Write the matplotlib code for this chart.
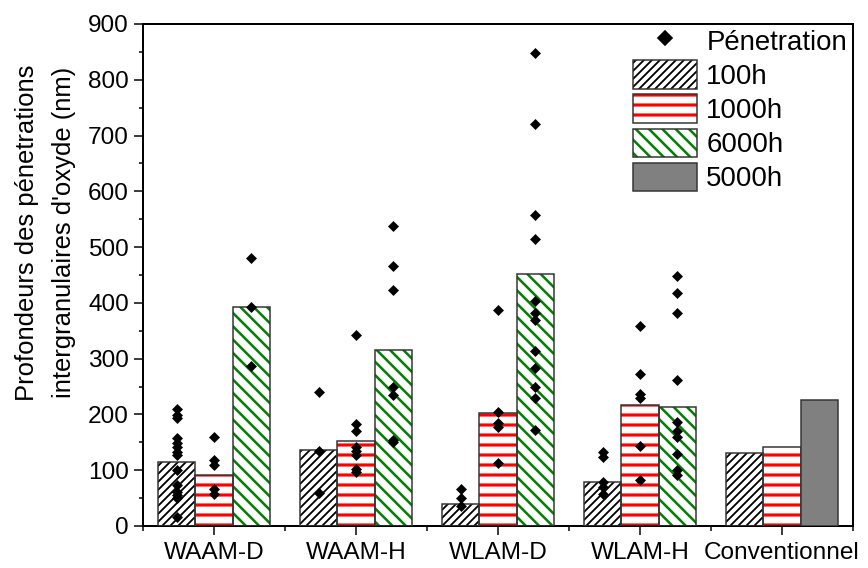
import numpy as np
import matplotlib
matplotlib.use('Agg')
import matplotlib.pyplot as plt
from matplotlib.patches import Patch
from matplotlib.lines import Line2D
from matplotlib.legend_handler import HandlerPatch

plt.rcParams['font.family'] = ['Liberation Sans', 'DejaVu Sans']

groups = ['WAAM-D', 'WAAM-H', 'WLAM-D', 'WLAM-H', 'Conventionnel']
h100 = [115, 136, 40, 78, 130]
h1000 = [91, 153, 202, 217, 141]
h6000 = [393, 315, 451, 213]          # no 6000h for Conventionnel
h5000 = [226]                          # only Conventionnel

# individual penetration depths (nm), one list per group
pts100 = [[209, 199, 193, 157, 149, 142, 133, 127, 100, 73, 61, 55, 50, 17],
          [240, 134, 60],
          [66, 50, 35],
          [132, 124, 79, 70, 57]]
pts1000 = [[159, 118, 109, 67, 58],
           [343, 182, 170, 142, 135, 128, 103, 96],
           [387, 205, 185, 178, 113],
           [358, 272, 236, 230, 143, 82]]
pts6000 = [[481, 392, 286],
           [537, 466, 423, 249, 234, 154, 150],
           [848, 720, 557, 515, 403, 381, 369, 314, 284, 250, 229, 172],
           [449, 418, 382, 262, 186, 170, 160, 129, 101, 91]]

DPI = 120
fig = plt.figure(figsize=(868 / DPI, 568 / DPI), dpi=DPI)
ax = fig.add_axes([143 / 868, 1 - 526 / 568, 710 / 868, 502 / 568])

w = 0.264
x = np.arange(len(groups))
edge = '#333333'


def hbars(xpos, heights, hatch, color, hlw):
    bars = ax.bar(xpos, heights, w, color='white', edgecolor=color, hatch=hatch, linewidth=0, zorder=2)
    for b in bars:
        if hasattr(b, 'set_hatch_linewidth'):
            b.set_hatch_linewidth(hlw)
    ax.bar(xpos, heights, w, fill=False, edgecolor=edge, linewidth=0.9, zorder=3)


hbars(x - w, h100, '/////', 'black', 1.1)
hbars(x, h1000, '--', '#ff0000', 1.9)
hbars(x[:4] + w, h6000, '\\\\\\', '#008000', 1.5)
ax.bar(x[4:] + w, h5000, w, color='#808080', edgecolor=edge, linewidth=0.9, zorder=3)

for i in range(4):
    for off, pts in ((-w, pts100[i]), (0, pts1000[i]), (w, pts6000[i])):
        ax.plot([x[i] + off] * len(pts), pts, ls='none', marker='D', ms=4.2,
                color='black', mec='black', mew=0.4, zorder=4)

ax.set_xlim(-0.5, 4.5)
ax.set_ylim(0, 900)
ax.set_xticks(x)
ax.set_xticklabels(groups)
ax.set_xticks(np.arange(-0.5, 4.6, 1), minor=True)
ax.set_yticks(np.arange(0, 901, 100))
ax.set_yticks(np.arange(50, 900, 100), minor=True)
ax.tick_params(which='major', direction='out', length=5.4, width=0.9, labelsize=14.6)
ax.tick_params(which='minor', direction='out', length=2.7, width=0.9)
ax.tick_params(axis='y', which='major', pad=3)
ax.tick_params(axis='x', which='major', pad=4)
for s in ax.spines.values():
    s.set_linewidth(1.2)
ax.set_ylabel("Profondeurs des pénetrations\nintergranulaires d'oxyde (nm)",
              fontsize=15.4, linespacing=1.65)
ax.yaxis.set_label_coords(-0.095, 0.585)

# legend handles: hatch patch overlaid with a grey outline
def leg_patch(hatch, color, hlw):
    p = Patch(facecolor='white', edgecolor=color, hatch=hatch, linewidth=0)
    if hasattr(p, 'set_hatch_linewidth'):
        p.set_hatch_linewidth(hlw)
    return (p, Patch(fill=False, edgecolor=edge, linewidth=0.9))


def copy_patch(legend_handle, orig_handle):
    legend_handle.update_from(orig_handle)
    if hasattr(orig_handle, 'get_hatch_linewidth'):
        legend_handle.set_hatch_linewidth(orig_handle.get_hatch_linewidth())

handles = [Line2D([], [], ls='none', marker='D', ms=6.2, color='black'),
           leg_patch('/////', 'black', 1.1),
           leg_patch('--', '#ff0000', 1.9),
           leg_patch('\\\\\\', '#008000', 1.5),
           Patch(facecolor='#808080', edgecolor=edge, linewidth=0.9)]
labels = ['Pénetration', '100h', '1000h', '6000h', '5000h']
ax.legend(handles, labels, loc='upper left', bbox_to_anchor=(633 / 868, 1 - 26 / 568),
          bbox_transform=fig.transFigure, frameon=False, fontsize=16.6,
          handlelength=2.3, handleheight=1.2, labelspacing=0.17,
          handletextpad=0.35, borderpad=0, borderaxespad=0,
          handler_map={Patch: HandlerPatch(update_func=copy_patch)})

fig.savefig('out.png', dpi=DPI)
